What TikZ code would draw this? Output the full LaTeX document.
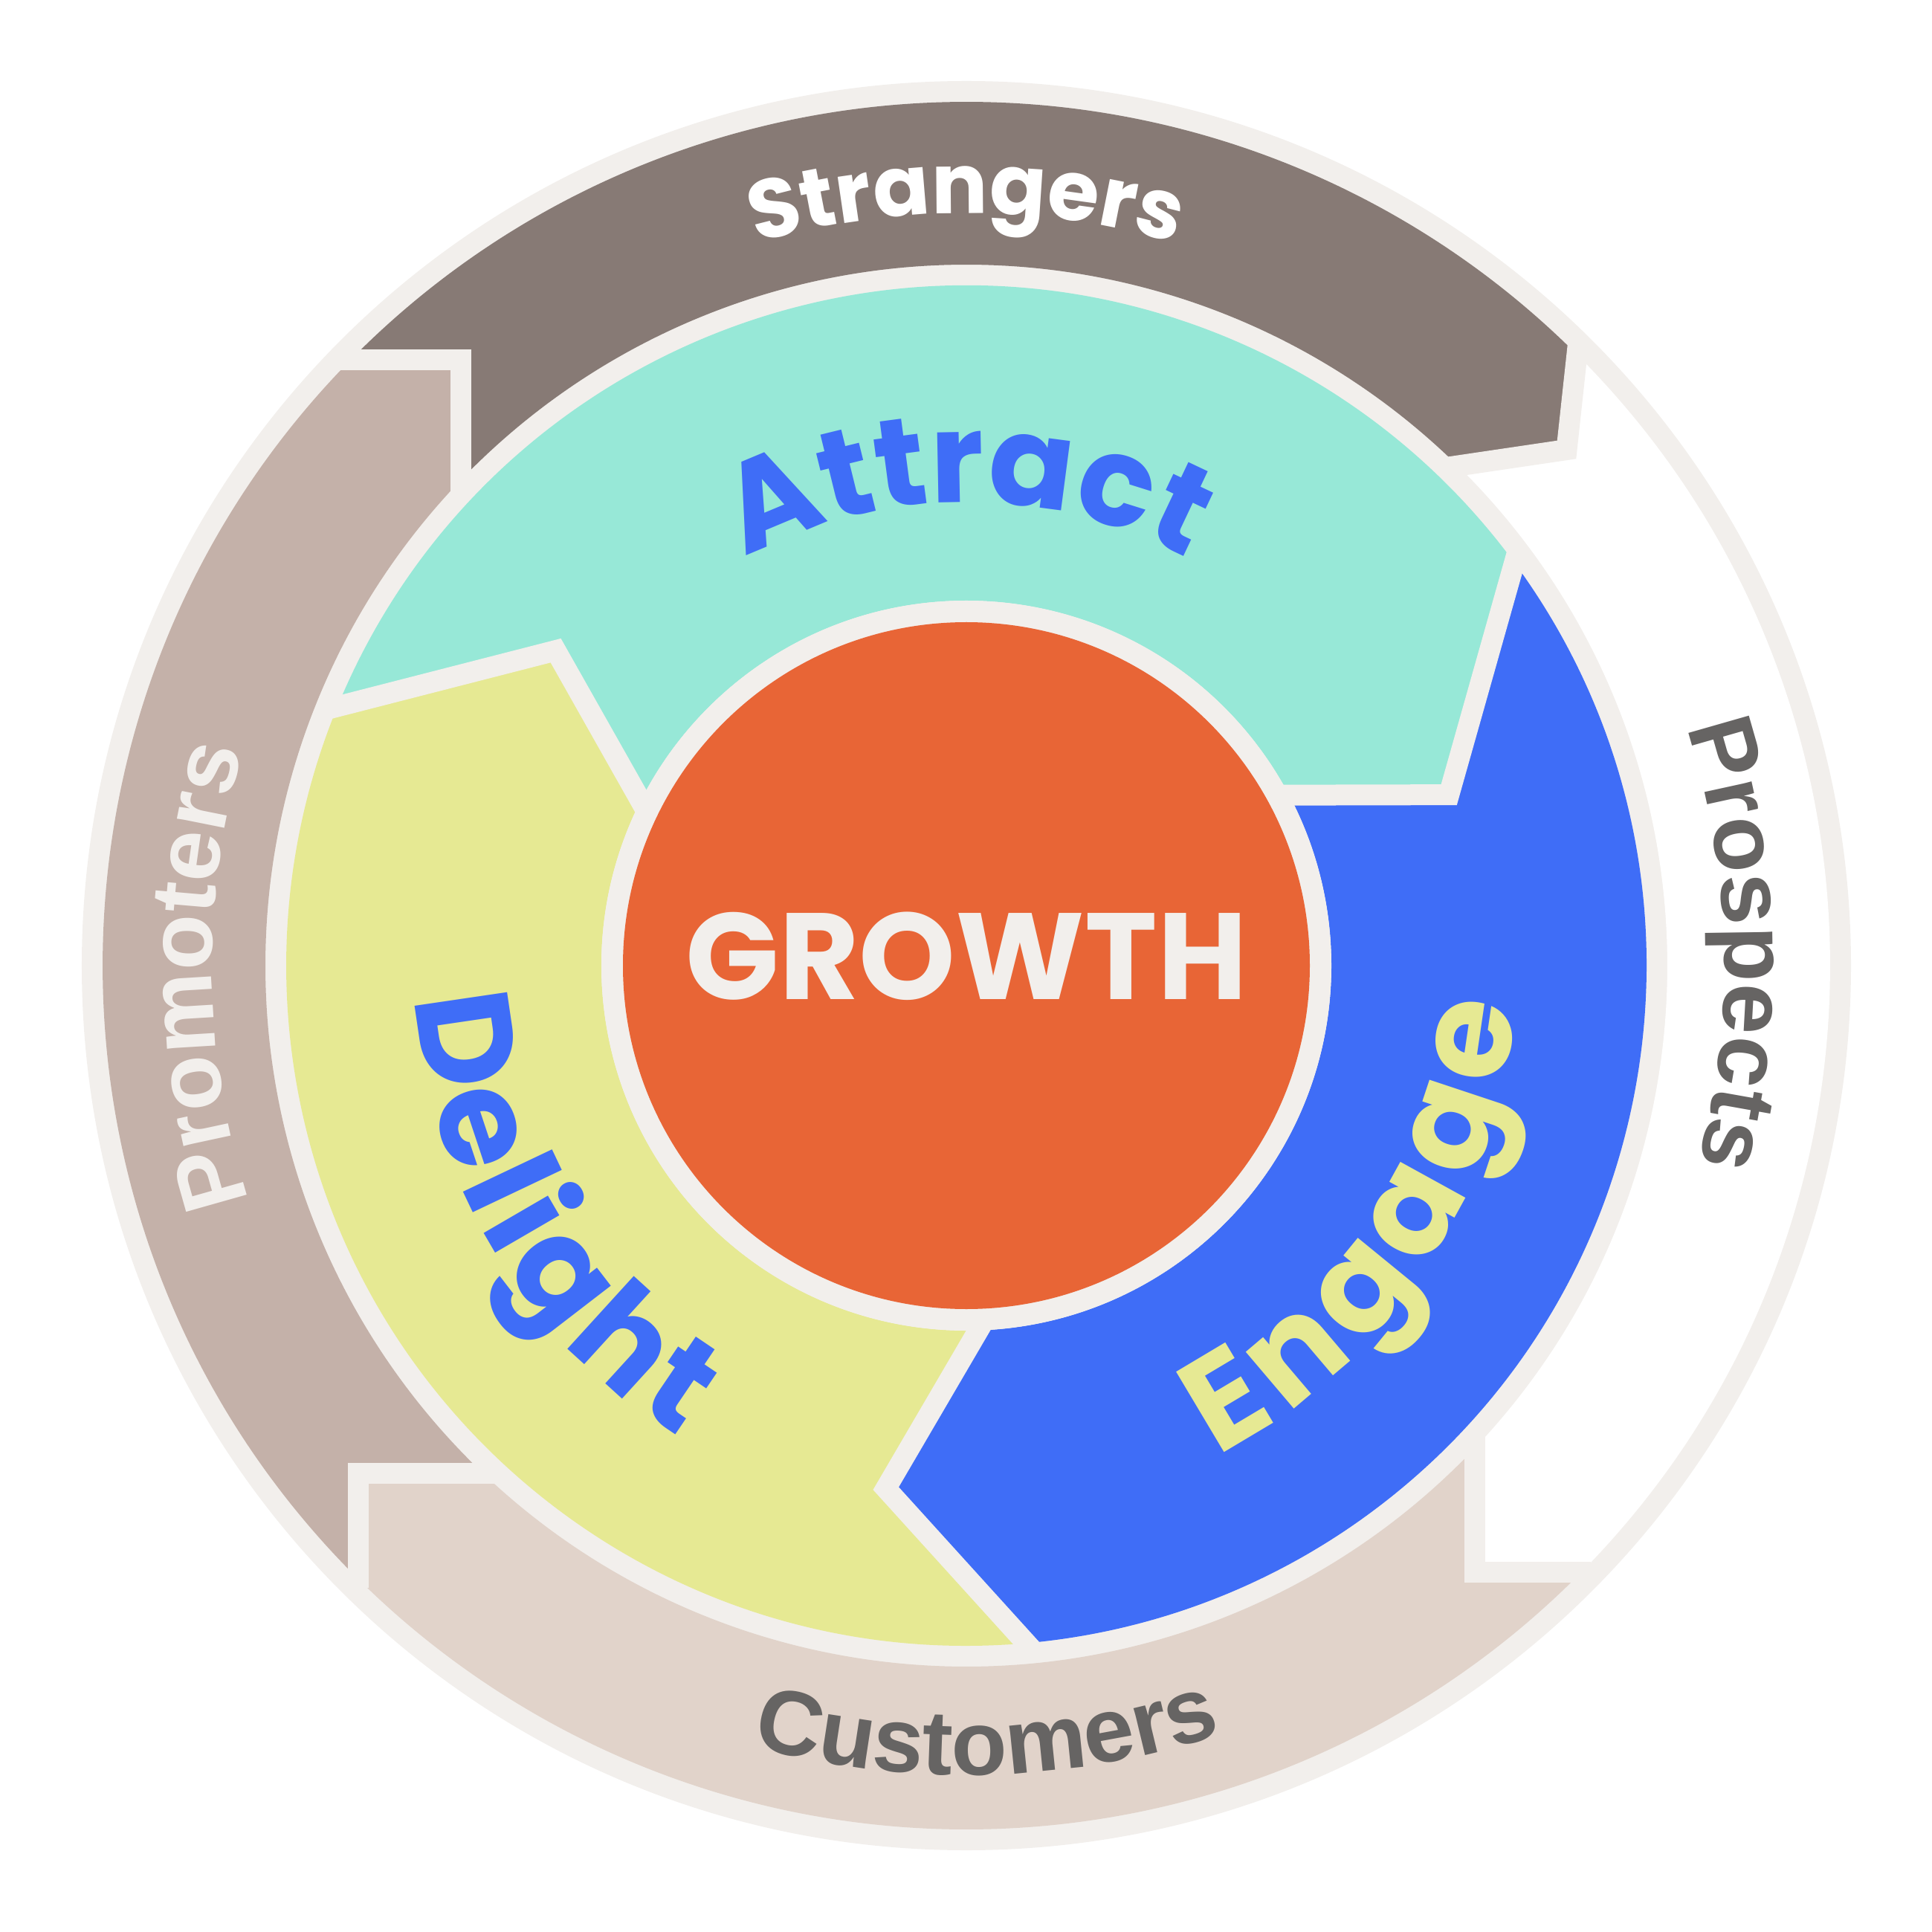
\documentclass[tikz,border=0pt]{standalone}
\usepackage{fontspec}
\usetikzlibrary{decorations.text}
\newfontfamily\poppins{Poppins}
\newfontfamily\arialish{Liberation Sans}
\definecolor{gapgray}{HTML}{F2EFEC}
\definecolor{strangers}{HTML}{877A75}
\definecolor{promoters}{HTML}{C4B1A9}
\definecolor{customers}{HTML}{E1D3CA}
\definecolor{attract}{HTML}{97E8D7}
\definecolor{engage}{HTML}{3F6DF7}
\definecolor{delight}{HTML}{E6E993}
\definecolor{growth}{HTML}{E86536}
\definecolor{labelgray}{HTML}{666463}
\newcommand\strfont{\poppins\bfseries\fontsize{32}{32}\selectfont}
\newcommand\ringfont{\arialish\bfseries\fontsize{35}{35}\selectfont}
\newcommand\stagefont{\poppins\bfseries\fontsize{48}{48}\selectfont}
\newcommand\bigstagefont{\poppins\bfseries\fontsize{51}{51}\selectfont}
\tikzset{
  gap/.style={draw=gapgray, line width=0.28cm, line join=miter},
  ringtext/.style={decorate, decoration={text along path, text align=center, text={#1}}}
}
\begin{document}
\begin{tikzpicture}
    \useasboundingbox (-13.00,-12.99) rectangle (12.99,12.99);
    \fill[gapgray] (0,0) circle (11.9);
    % outer ring
    \fill[strangers] (135.46:11.62) arc[start angle=135.46, end angle=45.09, radius=11.62] -- (8.075,6.94) -- (45.29:9.43) arc[start angle=45.29, end angle=136.15, radius=9.43] -- (-6.80,8.15) -- cycle;
    \fill[white] (45.09:11.62) arc[start angle=45.09, end angle=-44.61, radius=11.62] -- (6.84,-8.16) -- (-43.50:9.43) arc[start angle=-43.50, end angle=45.29, radius=9.43] -- (8.075,6.94) -- cycle;
    \fill[customers] (-44.61:11.62) arc[start angle=-44.61, end angle=-134.75, radius=11.62] -- (-8.18,-6.83) -- (-133.59:9.43) arc[start angle=-133.59, end angle=-43.50, radius=9.43] -- (6.84,-8.16) -- cycle;
    \fill[promoters] (-134.75:11.62) arc[start angle=-134.75, end angle=-224.54, radius=11.62] -- (-6.80,8.15) -- (136.15:9.43) arc[start angle=136.15, end angle=226.41, radius=9.43] -- (-8.18,-6.83) -- cycle;
    % middle ring
    \fill[attract] (158.25:9.15) arc[start angle=158.25, end angle=36.99, radius=9.15] -- (19.5:6.887) -- (29.2:4.91) arc[start angle=29.2, end angle=154.9, radius=4.91] -- (142.5:6.963) -- cycle;
    \fill[engage] (36.99:9.15) arc[start angle=36.99, end angle=-84.3, radius=9.15] -- (-98.75:7.116) -- (-86.5:4.91) arc[start angle=-86.5, end angle=29.2, radius=4.91] -- (19.5:6.887) -- cycle;
    \fill[delight] (-84.3:9.15) arc[start angle=-84.3, end angle=-201.75, radius=9.15] -- (142.5:6.963) -- (154.9:4.91) arc[start angle=154.9, end angle=273.5, radius=4.91] -- (-98.75:7.116) -- cycle;
    % gaps
    \draw[gap] (-8.478,8.15) -- (-6.80,8.15) -- (-6.80,6.33);
    \draw[gap] (8.23,8.37) -- (8.075,6.94) -- (6.45,6.70);
    \draw[gap] (6.84,-6.29) -- (6.84,-8.16) -- (8.40,-8.16);
    \draw[gap] (-8.18,-8.37) -- (-8.18,-6.83) -- (-6.33,-6.83);
    \draw[gap] (158.25:9.29) -- (142.5:6.963) -- (154.9:4.7);
    \draw[gap] (36.99:9.29) -- (19.5:6.887) -- (29.2:4.7);
    \draw[gap] (-84.3:9.29) -- (-98.75:7.116) -- (-86.5:4.7);
    % hub
    \fill[gapgray] (0,0) circle (4.91);
    \fill[growth] (0,0) circle (4.62);
    \node[text=gapgray, font=\poppins\bfseries\fontsize{47}{47}\selectfont] (growth) at (0,0.13) {GROWTH};
    % labels
    \path[ringtext={|\strfont\color{white}|Strangers}] (130:10.12) arc[start angle=130, end angle=50, radius=10.12];
    \path[ringtext={|\ringfont\color{labelgray}|Prospects}] (41.6:10.2) arc[start angle=41.6, end angle=-38.4, radius=10.2];
    \path[ringtext={|\ringfont\color{labelgray}|Customers}] (-128.5:10.89) arc[start angle=-128.5, end angle=-48.5, radius=10.89];
    \path[ringtext={|\ringfont\color{gapgray}|Promoters}] (220.8:10.15) arc[start angle=220.8, end angle=140.8, radius=10.15];
    \path[ringtext={|\stagefont\color{engage}|Attract}] (130:6.23) arc[start angle=130, end angle=50, radius=6.23];
    \path[ringtext={|\bigstagefont\color{delight}|E{\kern3.8pt}n{\kern3.8pt}g{\kern3.8pt}a{\kern3.8pt}g{\kern3.8pt}e}] (-73.5:7.40) arc[start angle=-73.5, end angle=6.5, radius=7.40];
    \path[ringtext={|\bigstagefont\color{engage}|D{\kern2.6pt}e{\kern2.6pt}l{\kern2.6pt}i{\kern2.6pt}g{\kern2.6pt}h{\kern2.6pt}t}] (171:7.42) arc[start angle=171, end angle=251, radius=7.42];
\end{tikzpicture}
\end{document}
